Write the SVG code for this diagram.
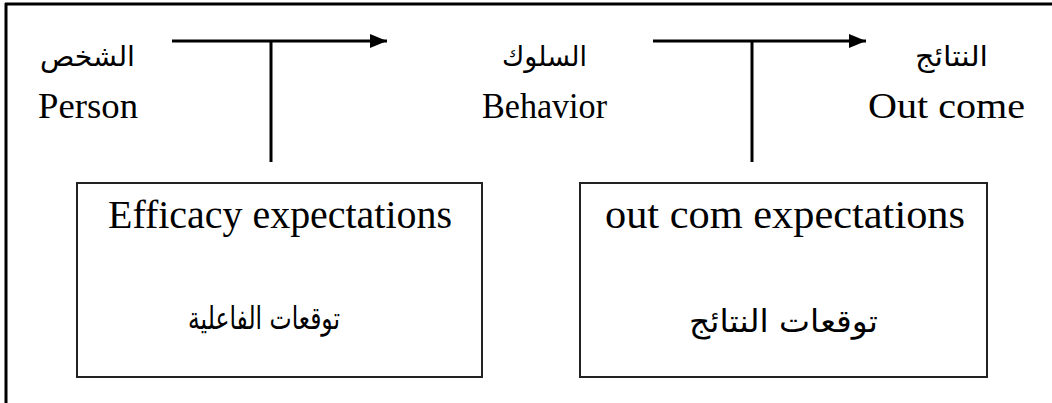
<svg xmlns="http://www.w3.org/2000/svg" width="1052" height="403" viewBox="0 0 1052 403">
<style>
.en{font-family:"Liberation Serif","Times New Roman",serif;fill:#000;}
.ar{font-family:"DejaVu Sans","Noto Sans",sans-serif;fill:#000;text-anchor:middle;}
.ln{stroke:#000;stroke-width:3;fill:none;}
.box{stroke:#222;stroke-width:2;fill:#fff;}
</style>
<defs>
<marker id="ah" markerUnits="userSpaceOnUse" markerWidth="18" markerHeight="16" refX="17" refY="8" orient="auto">
<path d="M0,1 L17,8 L0,15 Z" fill="#000"/>
</marker>
</defs>
<rect width="1052" height="403" fill="#fff"/>
<g id="frame">
<line x1="6" y1="3" x2="6" y2="403" stroke="#000" stroke-width="3"/>
<line x1="5" y1="4" x2="1052" y2="4" stroke="#000" stroke-width="3"/>
</g>
<g id="connectors">
<line class="ln" x1="172" y1="41" x2="387" y2="41" marker-end="url(#ah)"/>
<line class="ln" x1="271" y1="41" x2="271" y2="162"/>
<line class="ln" x1="653" y1="41" x2="866" y2="41" marker-end="url(#ah)"/>
<line class="ln" x1="752" y1="41" x2="752" y2="162"/>
</g>
<g id="person">
<text class="ar" x="87.5" y="66" font-size="28" textLength="95" lengthAdjust="spacingAndGlyphs">الشخص</text>
<text class="en" x="38" y="118" font-size="35" textLength="100" lengthAdjust="spacingAndGlyphs">Person</text>
</g>
<g id="behavior">
<text class="ar" x="544.5" y="66" font-size="28" textLength="85" lengthAdjust="spacingAndGlyphs">السلوك</text>
<text class="en" x="482" y="118" font-size="35" textLength="125" lengthAdjust="spacingAndGlyphs">Behavior</text>
</g>
<g id="outcome">
<text class="ar" x="951.5" y="66" font-size="28" textLength="73" lengthAdjust="spacingAndGlyphs">النتائج</text>
<text class="en" x="868" y="118" font-size="35" textLength="157" lengthAdjust="spacingAndGlyphs">Out come</text>
</g>
<g id="efficacy">
<rect class="box" x="77" y="183" width="405" height="194"/>
<text class="en" x="108" y="228" font-size="39" textLength="344" lengthAdjust="spacingAndGlyphs">Efficacy expectations</text>
<text class="ar" x="264" y="329" font-size="31" textLength="152" lengthAdjust="spacingAndGlyphs">توقعات الفاعلية</text>
</g>
<g id="outcome-exp">
<rect class="box" x="580" y="183" width="407" height="194"/>
<text class="en" x="605" y="228" font-size="39" textLength="360" lengthAdjust="spacingAndGlyphs">out com expectations</text>
<text class="ar" x="783.5" y="332" font-size="31" textLength="189" lengthAdjust="spacingAndGlyphs">توقعات النتائج</text>
</g>
</svg>
